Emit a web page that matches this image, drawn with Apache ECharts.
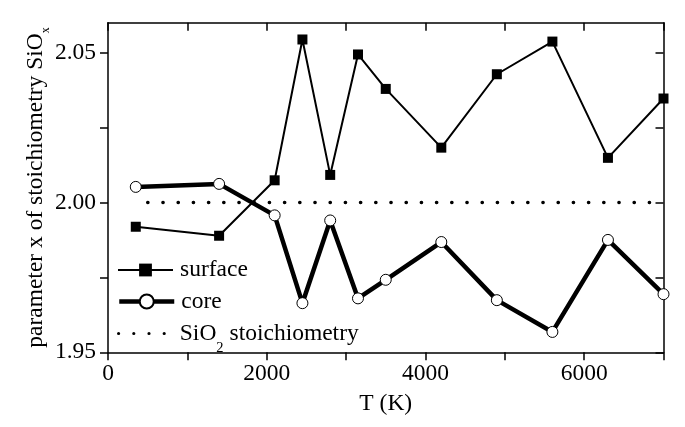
<!DOCTYPE html>
<html><head><meta charset="utf-8">
<script src="https://cdn.jsdelivr.net/npm/echarts@6/dist/echarts.min.js"></script>
<style>html,body{margin:0;padding:0;background:#fff}#c{width:685px;height:427px}</style>
</head><body><div id="c"></div>
<script>
// ---- data ----
const temperatures = [350, 1400, 2100, 2450, 2800, 3150, 3500, 4200, 4900, 5600, 6300, 7000];
const surfaceValues = [1.9919, 1.9889, 2.0074, 2.0544, 2.0092, 2.0494, 2.0379, 2.0183, 2.0428, 2.0537, 2.0149, 2.0347];
const coreValues = [2.0052, 2.0062, 1.9957, 1.9664, 1.9940, 1.9680, 1.9742, 1.9868, 1.9674, 1.9568, 1.9875, 1.9694];
const stoichT = [500, 7000];
const stoichValues = [2.00, 2.00];
const xTicks = [0, 1000, 2000, 3000, 4000, 5000, 6000, 7000];
const xTickLabels = [0, 2000, 4000, 6000];
const yTicks = [1.95, 1.975, 2.00, 2.025, 2.05];
const yTickLabels = [1.95, 2.00, 2.05];
const seriesNames = ['surface', 'core', 'SiO2 stoichiometry'];

const FONT = 'Liberation Serif';
const FS = 23.5;
const pair = (xs, ys) => xs.map((x, i) => [x, ys[i]]);

const chart = echarts.init(document.getElementById('c'), null, {renderer: 'canvas'});

const axisLine = {show: true, onZero: false, lineStyle: {color: '#000', width: 1.5}};
const labelStyle = {color: '#000', fontFamily: FONT, fontSize: FS};

const legendBase = {
  orient: 'vertical', left: 117, padding: 0, itemGap: 0,
  itemWidth: 55, itemHeight: 16, selectedMode: false,
  textStyle: {
    color: '#000', fontFamily: FONT, fontSize: FS, lineHeight: 24, padding: [0, 0, 0, 2],
    rich: {
      m: {fontFamily: FONT, fontSize: FS, lineHeight: 24, color: '#000'},
      s: {fontFamily: FONT, fontSize: 14.5, lineHeight: 15, padding: [30, 0, 0, 0], color: '#000'}
    }
  }
};

const dotPath = 'path://M0,1.6a1.6,1.6 0 1,0 3.2,0a1.6,1.6 0 1,0 -3.2,0Z' +
  'M15.2,1.6a1.6,1.6 0 1,0 3.2,0a1.6,1.6 0 1,0 -3.2,0Z' +
  'M30.4,1.6a1.6,1.6 0 1,0 3.2,0a1.6,1.6 0 1,0 -3.2,0Z' +
  'M45.6,1.6a1.6,1.6 0 1,0 3.2,0a1.6,1.6 0 1,0 -3.2,0Z';

chart.setOption({
  animation: false,
  backgroundColor: '#fff',
  grid: {left: 108, right: 21.5, top: 22.7, bottom: 74.7, containLabel: false},
  legend: [
    Object.assign({}, legendBase, {top: 258, itemHeight: 16, data: [seriesNames[0]],
      lineStyle: {width: 2, color: '#000'}}),
    Object.assign({}, legendBase, {top: 289.5, itemHeight: 17.5, data: [seriesNames[1]],
      lineStyle: {width: 4.5, color: '#000'}}),
    Object.assign({}, legendBase, {
      top: 311, itemWidth: 48.8,
      data: [{name: seriesNames[2], icon: dotPath}],
      formatter: () => '{m|SiO}{s|2}{m| stoichiometry}',
      textStyle: Object.assign({}, legendBase.textStyle, {padding: [0, 0, 0, 9]})
    })
  ],
  xAxis: [{
    type: 'value', position: 'bottom', min: 0, max: 7000,
    name: 'T (K)', nameLocation: 'middle', nameGap: 40,
    nameTextStyle: {color: '#000', fontFamily: FONT, fontSize: FS},
    axisLine: axisLine,
    axisTick: {show: true, inside: false, length: 8, lineStyle: {color: '#000', width: 1.5}, customValues: xTicks},
    axisLabel: Object.assign({margin: 10, customValues: xTickLabels, formatter: v => String(v)}, labelStyle),
    splitLine: {show: false}
  }, {
    type: 'value', position: 'top', min: 0, max: 7000,
    axisLine: axisLine,
    axisTick: {show: true, inside: true, length: 8, lineStyle: {color: '#000', width: 1.5}, customValues: xTicks},
    axisLabel: {show: false},
    splitLine: {show: false}
  }],
  yAxis: [{
    type: 'value', position: 'left', min: 1.95, max: 2.06,
    name: '{m|parameter x of stoichiometry SiO}{s|x}', nameLocation: 'middle', nameRotate: 90, nameGap: 60,
    nameMoveOverlap: false,
    nameTextStyle: {
      color: '#000', fontFamily: FONT, fontSize: FS,
      rich: {
        m: {fontFamily: FONT, fontSize: FS, lineHeight: 24, color: '#000'},
        s: {fontFamily: FONT, fontSize: 12, lineHeight: 12, padding: [20, 0, 0, 0], color: '#000'}
      }
    },
    axisLine: axisLine,
    axisTick: {show: true, inside: false, length: 8, lineStyle: {color: '#000', width: 1.5}, customValues: yTicks},
    axisLabel: Object.assign({margin: 12, customValues: yTickLabels, formatter: v => v.toFixed(2)}, labelStyle),
    splitLine: {show: false}
  }, {
    type: 'value', position: 'right', min: 1.95, max: 2.06,
    axisLine: axisLine,
    axisTick: {show: true, inside: true, length: 8, lineStyle: {color: '#000', width: 1.5}, customValues: yTicks},
    axisLabel: {show: false},
    splitLine: {show: false}
  }],
  series: [{
    name: seriesNames[0], type: 'line', xAxisIndex: 0, yAxisIndex: 0,
    data: pair(temperatures, surfaceValues),
    symbol: 'rect', symbolSize: 10,
    itemStyle: {color: '#000'},
    lineStyle: {color: '#000', width: 2},
    z: 3
  }, {
    name: seriesNames[1], type: 'line', xAxisIndex: 0, yAxisIndex: 0,
    data: pair(temperatures, coreValues),
    symbol: 'circle', symbolSize: 11,
    itemStyle: {color: '#fff', borderColor: '#000', borderWidth: 1},
    lineStyle: {color: '#000', width: 4.5},
    z: 4
  }, {
    name: seriesNames[2], type: 'line', xAxisIndex: 0, yAxisIndex: 0,
    data: pair(stoichT, stoichValues),
    symbol: 'none',
    itemStyle: {color: '#000'},
    lineStyle: {color: '#000', width: 3.4, type: [0.3, 14.9], cap: 'round'},
    z: 2
  }]
});
</script>
</body></html>
